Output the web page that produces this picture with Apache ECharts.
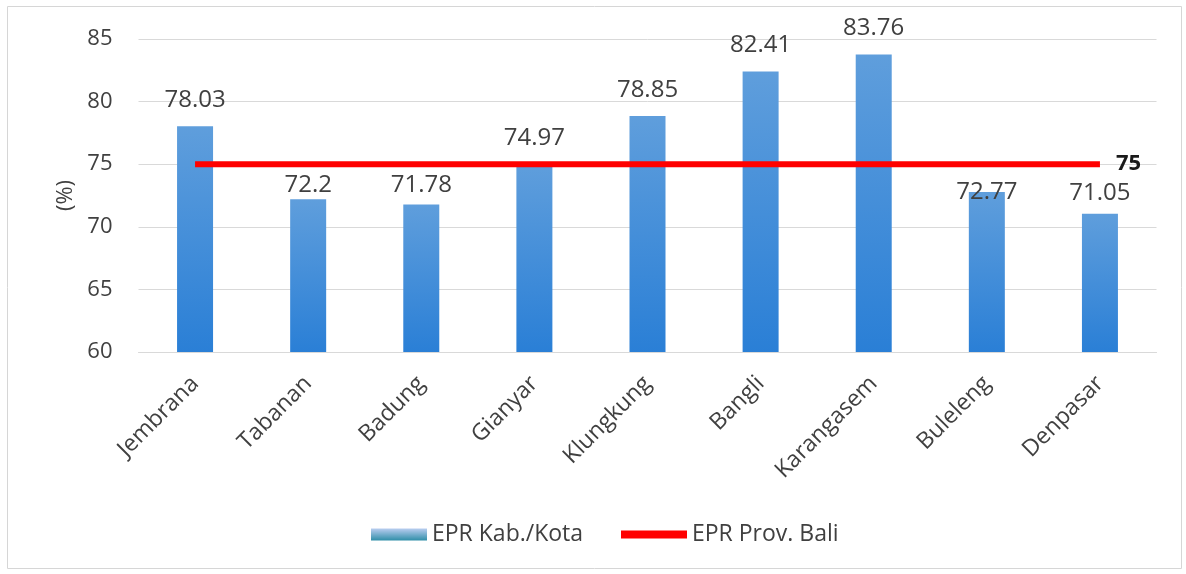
<!DOCTYPE html>
<html>
<head>
<meta charset="utf-8">
<script src="https://cdn.jsdelivr.net/npm/echarts@6/dist/echarts.min.js"></script>
<style>
  html, body { margin: 0; padding: 0; background: #ffffff; }
  #chart { width: 1186px; height: 574px; }
</style>
</head>
<body>
<div id="chart"></div>
<script>
// Employment participation rate by regency / city, Bali
const regencies = ['Jembrana', 'Tabanan', 'Badung', 'Gianyar', 'Klungkung', 'Bangli', 'Karangasem', 'Buleleng', 'Denpasar'];
const eprRegency = [78.03, 72.2, 71.78, 74.97, 78.85, 82.41, 83.76, 72.77, 71.05];
const eprProvince = [75, 75, 75, 75, 75, 75, 75, 75, 75];
const yTicks = { min: 60, max: 85, step: 5 };

// label lift above each bar (px), nudged where the province line would cover it
const labelGaps = [14, 2, 7, 14, 14, 14, 14, -12, 8];

const FONT = '"Open Sans", "Noto Sans", sans-serif';

const barFill = new echarts.graphic.LinearGradient(0, 0, 0, 1, [
  { offset: 0, color: '#5f9edc' },
  { offset: 1, color: '#2a7fd6' }
]);
const legendBarFill = new echarts.graphic.LinearGradient(0, 0, 0, 1, [
  { offset: 0, color: '#b9cdf0' },
  { offset: 1, color: '#2f8ea8' }
]);

const chart = echarts.init(document.getElementById('chart'), null, { renderer: 'canvas' });

chart.setOption({
  backgroundColor: '#ffffff',
  animation: false,
  textStyle: { fontFamily: FONT },
  graphic: [{
    type: 'rect',
    shape: { x: 7.5, y: 6.5, width: 1174, height: 562 },
    style: { fill: 'none', stroke: '#d6d6d6', lineWidth: 1 },
    silent: true, z: -10
  }],
  grid: { left: 138.5, right: 29.5, top: 39, bottom: 222 },
  legend: [{
    left: 366, top: 518,
    itemWidth: 56, itemHeight: 12, itemGap: 30,
    textStyle: { fontFamily: FONT, fontSize: 23, color: '#404040' },
    data: [{ name: 'EPR Kab./Kota', icon: 'rect', itemStyle: { color: legendBarFill } }]
  }, {
    left: 616, top: 518,
    itemWidth: 66, itemHeight: 8,
    textStyle: { fontFamily: FONT, fontSize: 23, color: '#404040' },
    data: [{ name: 'EPR Prov. Bali', icon: 'rect', itemStyle: { color: '#ff0000' } }]
  }],
  xAxis: {
    type: 'category',
    data: regencies,
    axisLine: { show: true, lineStyle: { color: '#d9d9d9', width: 1 } },
    axisTick: { show: false },
    axisLabel: {
      rotate: 45, margin: 28, interval: 0,
      fontFamily: FONT, fontSize: 23, color: '#404040'
    }
  },
  yAxis: {
    type: 'value',
    min: yTicks.min, max: yTicks.max, interval: yTicks.step,
    name: '(%)',
    nameLocation: 'middle',
    nameRotate: 90,
    nameGap: 60,
    nameTextStyle: { fontFamily: FONT, fontSize: 22, color: '#404040' },
    axisLine: { show: false },
    axisTick: { show: false },
    axisLabel: { margin: 26, fontFamily: FONT, fontSize: 22, color: '#404040' },
    splitLine: { lineStyle: { color: '#d9d9d9', width: 1 } }
  },
  series: [{
    name: 'EPR Kab./Kota',
    type: 'bar',
    barWidth: 36,
    itemStyle: { color: barFill },
    label: {
      show: true, position: 'top',
      fontFamily: FONT, fontSize: 24, color: '#404040'
    },
    data: eprRegency.map((v, i) => ({ value: v, label: { distance: labelGaps[i] } })),
    z: 2
  }, {
    name: 'EPR Prov. Bali',
    type: 'line',
    data: eprProvince,
    symbol: 'none',
    lineStyle: { color: '#ff0000', width: 6 },
    itemStyle: { color: '#ff0000' },
    endLabel: {
      show: true,
      distance: 16,
      formatter: p => String(p.value),
      fontFamily: FONT, fontSize: 22, fontWeight: 'bold', color: '#1a1a1a'
    },
    z: 3
  }]
});
</script>
</body>
</html>
